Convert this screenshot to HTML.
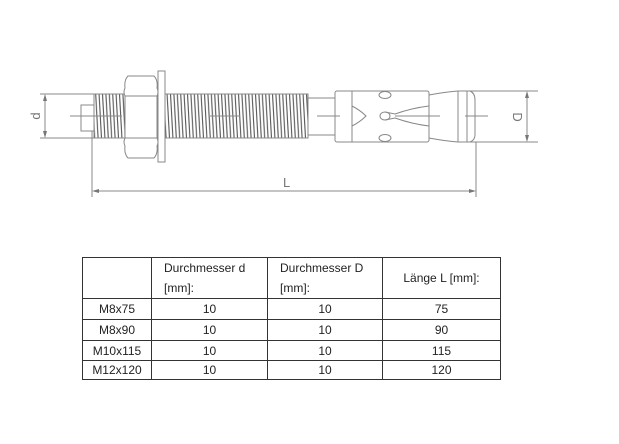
<!DOCTYPE html>
<html><head><meta charset="utf-8"><style>
html,body{margin:0;padding:0;background:#fff;}
body{width:619px;height:444px;position:relative;overflow:hidden;font-family:"Liberation Sans",sans-serif;}
svg{position:absolute;left:0;top:0;}
table{position:absolute;left:82px;top:257px;border-collapse:collapse;font-size:12px;color:#222;}
td{border:1px solid #333;text-align:center;padding:0;}
</style></head><body>
<svg width="619" height="444" viewBox="0 0 619 444">
<defs>
<pattern id="th" width="3.4" height="44" patternUnits="userSpaceOnUse" x="0" y="94">
<path d="M0.5,0 L2.9,44" stroke="#555" stroke-width="1.1" fill="none"/>
</pattern>
</defs>
<g stroke="#888" stroke-width="1" fill="none">
<line x1="40" y1="94" x2="96" y2="94"/>
<line x1="40" y1="138" x2="96" y2="138"/>
<line x1="45" y1="96" x2="45" y2="136"/>
<rect x="81" y="105" width="13" height="26"/>
<rect x="94" y="94" width="32" height="44" fill="url(#th)"/>
<path d="M128,76 L154,76 Q158,80 157,88 Q159,92 157,96 L157,138 Q159,142 157,146 Q158,154 154,158 L128,158 Q124,154 125,146 Q123,142 125,138 L125,96 Q123,92 125,88 Q124,80 128,76 Z" fill="#fff"/>
<line x1="125" y1="96" x2="157" y2="96"/>
<line x1="125" y1="138" x2="157" y2="138"/>
<rect x="158" y="71" width="7" height="91" fill="#fff"/>
<rect x="165" y="94" width="143" height="44" fill="url(#th)"/>
<rect x="308" y="98" width="27" height="37" fill="#fff"/>
<rect x="335" y="91" width="94" height="51" rx="2" fill="#fff"/>
<line x1="352" y1="91" x2="352" y2="142"/>
<ellipse cx="385" cy="95" rx="6" ry="3.5"/>
<ellipse cx="385" cy="138" rx="6" ry="3.5"/>
<path d="M352,106 Q360,110 366,116 Q360,122 352,126"/>
<path d="M385,112 L395,114 Q412,108 429,106 M385,120 L395,118 Q412,124 429,126"/>
<ellipse cx="385" cy="116" rx="5" ry="4"/>
<path d="M429,95 Q445,92 458,91 M429,138 Q445,141 458,142"/>
<line x1="458" y1="91" x2="458" y2="142"/>
<line x1="467" y1="91" x2="467" y2="142"/>
<path d="M458,91 L470,91 Q475,93 475,100 L475,135 Q475,140 470,142 L458,142"/>
<line x1="458" y1="91" x2="538" y2="91"/>
<line x1="458" y1="142" x2="538" y2="142"/>
<line x1="527" y1="93" x2="527" y2="140"/>
<line x1="70" y1="116" x2="122" y2="116"/>
<line x1="210" y1="116" x2="240" y2="116"/>
<line x1="317" y1="116" x2="340" y2="116"/>
<line x1="395" y1="116" x2="440" y2="116"/>
<line x1="465" y1="116" x2="488" y2="116"/>
<line x1="92" y1="131" x2="92" y2="197"/>
<line x1="476" y1="142" x2="476" y2="197"/>
<line x1="94" y1="191" x2="474" y2="191"/>
</g>
<g fill="#777">
<path d="M45,94 L43,101 L47,101 Z"/><path d="M45,138 L43,131 L47,131 Z"/>
<path d="M527,91 L525,98 L529,98 Z"/><path d="M527,142 L525,135 L529,135 Z"/>
<path d="M92,191 L99,189 L99,193 Z"/><path d="M476,191 L469,189 L469,193 Z"/>
</g>
<g fill="#777" font-family="Liberation Sans, sans-serif" font-size="13">
<text x="283" y="187">L</text>
<text transform="translate(40,116) rotate(-90)" text-anchor="middle">d</text>
<text transform="translate(513,117) rotate(90)" text-anchor="middle">D</text>
</g>
</svg>
<table>
<tr style="height:41px"><td style="width:68px"></td><td style="width:116px;line-height:20px;text-align:left;padding-left:12px;box-sizing:border-box">Durchmesser d<br>[mm]:</td><td style="width:115px;line-height:20px;text-align:left;padding-left:12px;box-sizing:border-box">Durchmesser D<br>[mm]:</td><td style="width:117px">Länge L [mm]:</td></tr>
<tr style="height:21px"><td>M8x75</td><td>10</td><td>10</td><td>75</td></tr>
<tr style="height:21px"><td>M8x90</td><td>10</td><td>10</td><td>90</td></tr>
<tr style="height:20px"><td>M10x115</td><td>10</td><td>10</td><td>115</td></tr>
<tr style="height:19px"><td>M12x120</td><td>10</td><td>10</td><td>120</td></tr>
</table>
</body></html>
